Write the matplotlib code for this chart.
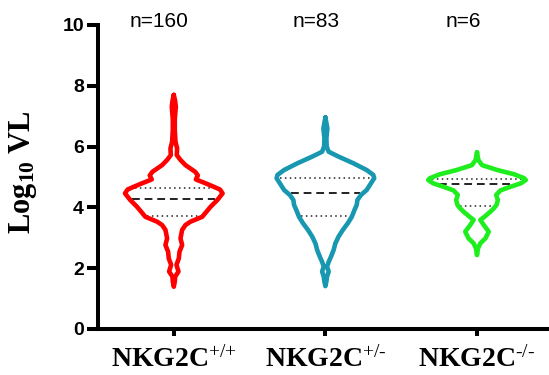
import numpy as np
import matplotlib.pyplot as plt

plt.rcParams['mathtext.fontset'] = 'custom'
plt.rcParams['mathtext.rm'] = 'Liberation Serif'
plt.rcParams['mathtext.bf'] = 'Liberation Serif:bold'
plt.rcParams['mathtext.it'] = 'Liberation Serif:italic'

# genotype groups
genotypes = ['+/+', '+/-', '-/-']
counts = [160, 83, 6]
colors = ['#FF0000', '#1798B0', '#1EEE1E']

# violin outlines: y (log10 VL) and relative half-width
red_y = [7.70, 7.50, 7.31, 6.90, 6.55, 6.16, 5.94, 5.72, 5.56, 5.39, 5.17, 5.05, 4.92,
         4.77, 4.59, 4.46, 4.24, 4.02, 3.69, 3.53, 3.42, 3.26, 2.98, 2.76, 2.54, 2.32,
         2.11, 1.89, 1.72, 1.56, 1.39]
red_w = [0, 4, 6, 3, 3, 5, 10, 9, 20, 35, 64, 72, 66, 100, 138, 146, 130, 110, 85, 50,
         35, 25, 20, 25, 17, 15, 8, 14, 4, 3, 0]

blue_y = [6.96, 6.60, 6.27, 6.00, 5.83, 5.67, 5.45, 5.23, 5.07, 4.96, 4.74, 4.57, 4.41,
          4.24, 4.08, 3.91, 3.69, 3.48, 3.26, 3.04, 2.81, 2.60, 2.38, 2.21, 2.05, 1.89,
          1.72, 1.56, 1.41]
blue_w = [0, 6, 3, 4, 10, 40, 85, 125, 145, 148, 135, 125, 108, 97, 95, 88, 80, 68, 53,
          40, 30, 25, 17, 10, 5, 10, 5, 3, 0]

green_y = [5.81, 5.56, 5.39, 5.23, 5.09, 4.96, 4.90, 4.79, 4.68, 4.56, 4.41, 4.24, 4.08,
           3.97, 3.86, 3.69, 3.59, 3.42, 3.20, 2.98, 2.82, 2.65, 2.43]
green_w = [0, 4, 15, 60, 110, 140, 145, 130, 100, 70, 57, 62, 58, 50, 40, 22, 10, 20, 35,
           25, 10, 3, 0]

# quartiles: Q1, median, Q3
red_q = [3.72, 4.28, 4.65]
blue_q = [3.72, 4.46, 4.98]
green_q = [4.05, 4.76, 4.93]

fig = plt.figure(figsize=(5.49, 3.75), dpi=100)
ax = fig.add_axes([0.1785, 0.1227, 0.8215, 0.8107])

half = 0.322
series = [(red_y, red_w, red_q), (blue_y, blue_w, blue_q), (green_y, green_w, green_q)]
for i, (ys, ws, qs) in enumerate(series):
    ys = np.array(ys)
    w = np.array(ws, dtype=float) / max(ws) * half
    xs = np.concatenate([i + w, (i - w)[::-1]])
    yy = np.concatenate([ys, ys[::-1]])
    ax.plot(xs, yy, color=colors[i], lw=3.3, solid_joinstyle='round',
            solid_capstyle='round', zorder=3)
    for k, q in enumerate(qs):
        hw = np.interp(q, ys[::-1], w[::-1]) * 0.93
        if k == 1:
            ax.plot([i - hw, i + hw], [q, q], color='#222222', lw=1.4,
                    dashes=(4, 2.5), zorder=2)
        else:
            ax.plot([i - hw, i + hw], [q, q], color='#222222', lw=1.1,
                    linestyle=(0, (1, 2.2)), zorder=2)

offsets = [-0.10, -0.06, -0.09]
for i, n in enumerate(counts):
    ax.text(i + offsets[i], 10.12, f'n={n}', ha='center', va='center',
            fontsize=15, family='Liberation Sans', clip_on=False)

ax.set_xlim(-0.5, 2.475)
ax.set_ylim(0, 10)
ax.set_yticks([0, 2, 4, 6, 8, 10])
ax.set_xticks([0, 1, 2])
ax.set_xticklabels([r'$\mathbf{NKG2C}^{\text{%s}}$' % g for g in genotypes], fontsize=20)

for lab in ax.get_yticklabels():
    lab.set_fontfamily('Liberation Sans')
    lab.set_fontweight('bold')
    lab.set_fontsize(14)

ax.spines['top'].set_visible(False)
ax.spines['right'].set_visible(False)
ax.spines['left'].set_linewidth(2.9)
ax.spines['bottom'].set_linewidth(2.9)
ax.tick_params(axis='y', length=8, width=2.9, pad=2)
ax.tick_params(axis='x', length=5, width=2.9, pad=6)

fig.text(0.042, 0.541, r'$\mathbf{Log_{10}\ VL}$', rotation=90, ha='center',
         va='center', fontsize=22)

fig.savefig('out.png', dpi=100)
